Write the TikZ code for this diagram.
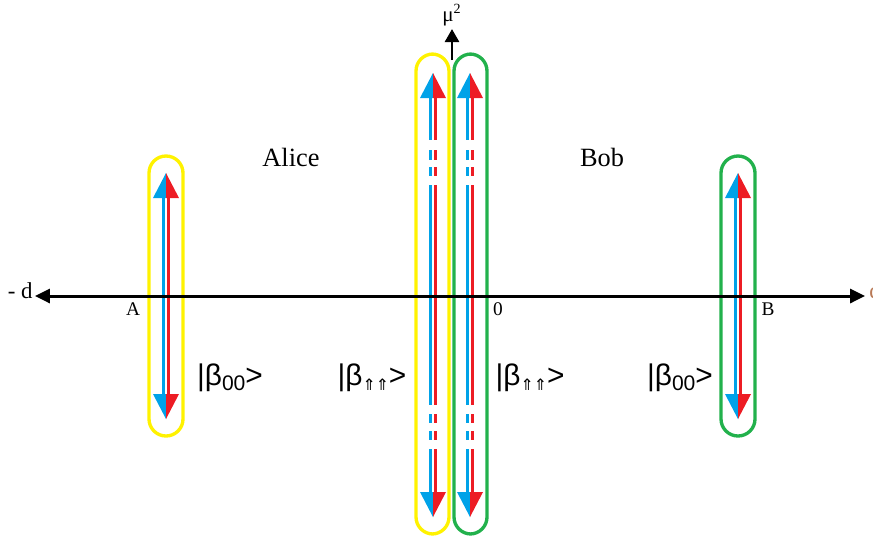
\documentclass[tikz,border=0pt]{standalone}
\usepackage{fontspec}
\setmainfont{Liberation Serif}
\newfontfamily\ketfont{Liberation Sans}
\newfontfamily\symfont{DejaVu Sans}
\usetikzlibrary{arrows.meta}
\definecolor{capyellow}{HTML}{FFF200}
\definecolor{capgreen}{HTML}{22B14C}
\definecolor{spinblue}{HTML}{00A2E8}
\definecolor{spinred}{HTML}{ED1C24}
\definecolor{edgec}{HTML}{B97A57}

% split head: blue half left, red half right
\newcommand{\spinhead}[3]{%
  \fill[spinblue] (#1,#2) -- (#1-13,#3) -- (#1,#3) -- cycle;
  \fill[spinred] (#1,#2) -- (#1+13,#3) -- (#1,#3) -- cycle;}
% pair of coloured shafts
\newcommand{\spinbar}[3]{%
  \draw[spinblue, shaft] (#1-2.4,#2) -- (#1-2.4,#3);
  \draw[spinred, shaft] (#1+2.4,#2) -- (#1+2.4,#3);}
\newcommand{\ket}[1]{{\ketfont|β\raisebox{-0.3ex}{#1}>}}

\begin{document}
\begin{tikzpicture}[x=0.02cm, y=-0.02cm,
    capsule/.style={line width=1.9pt, rounded corners=0.34cm},
    shaft/.style={line width=1.6pt},
    axis/.style={line width=1.7pt, {Triangle[length=8.5pt, width=8pt]}-{Triangle[length=8.5pt, width=8pt]}},
    lbl/.style={font=\fontsize{11}{12}\selectfont, inner sep=0pt},
    ketlbl/.style={font=\fontsize{17}{19}\selectfont, inner sep=0pt}]
  \useasboundingbox (0,0) rectangle (873,539);

  % capsules
  \draw[capsule, capyellow] (149,156) rectangle (183,436);
  \draw[capsule, capyellow] (416,54) rectangle (449,534);
  \draw[capsule, capgreen] (454,54) rectangle (487,534);
  \draw[capsule, capgreen] (721,156) rectangle (755,436);

  % outer spin pairs
  \foreach \cx in {166, 738} {
    \spinbar{\cx}{190}{410}
    \spinhead{\cx}{173}{198}
    \spinhead{\cx}{419}{394}
  }

  % inner spin pairs, broken shafts
  \foreach \cx in {433, 470} {
    \spinbar{\cx}{92}{140}
    \spinbar{\cx}{150}{160}
    \spinbar{\cx}{167}{176}
    \spinbar{\cx}{185}{405}
    \spinbar{\cx}{414}{423}
    \spinbar{\cx}{431}{440}
    \spinbar{\cx}{449}{497}
    \spinhead{\cx}{73}{98}
    \spinhead{\cx}{517}{492}
  }

  % axis
  \coordinate (west) at (35,296);
  \coordinate (east) at (865,296);
  \draw[axis] (west) -- (east);
  \node[lbl, font=\fontsize{13}{14}\selectfont, anchor=east] (minusd) at (33,291) {- d};
  \node[lbl, font=\fontsize{13}{14}\selectfont, anchor=west, text=edgec] (plusd) at (869,291) {d};
  \node[lbl] (ptA) at (133,309) {A};
  \node[lbl] (ptO) at (498,309) {0};
  \node[lbl] (ptB) at (768,309) {B};

  % vertical axis stub
  \coordinate (mubase) at (452,60);
  \node[lbl, font=\fontsize{12}{13}\selectfont] (mu) at (452,15) {μ\textsuperscript{2}};
  \draw[line width=1.7pt, -{Triangle[length=7.5pt, width=8pt]}] (mubase) -- (452,29);

  % parties
  \node[font=\fontsize{15}{16}\selectfont, inner sep=0pt] (alice) at (291,157) {Alice};
  \node[font=\fontsize{15}{16}\selectfont, inner sep=0pt] (bob) at (602,157) {Bob};

  % states
  \node[ketlbl] (ketA) at (230,378) {\ket{\fontsize{12}{12}\selectfont 00}};
  \node[ketlbl] (ketAm) at (372,378) {\ket{\fontsize{9}{9}\selectfont\symfont ⇑⇑}};
  \node[ketlbl] (ketBm) at (530,378) {\ket{\fontsize{9}{9}\selectfont\symfont ⇑⇑}};
  \node[ketlbl] (ketB) at (680,378) {\ket{\fontsize{12}{12}\selectfont 00}};
\end{tikzpicture}
\end{document}
